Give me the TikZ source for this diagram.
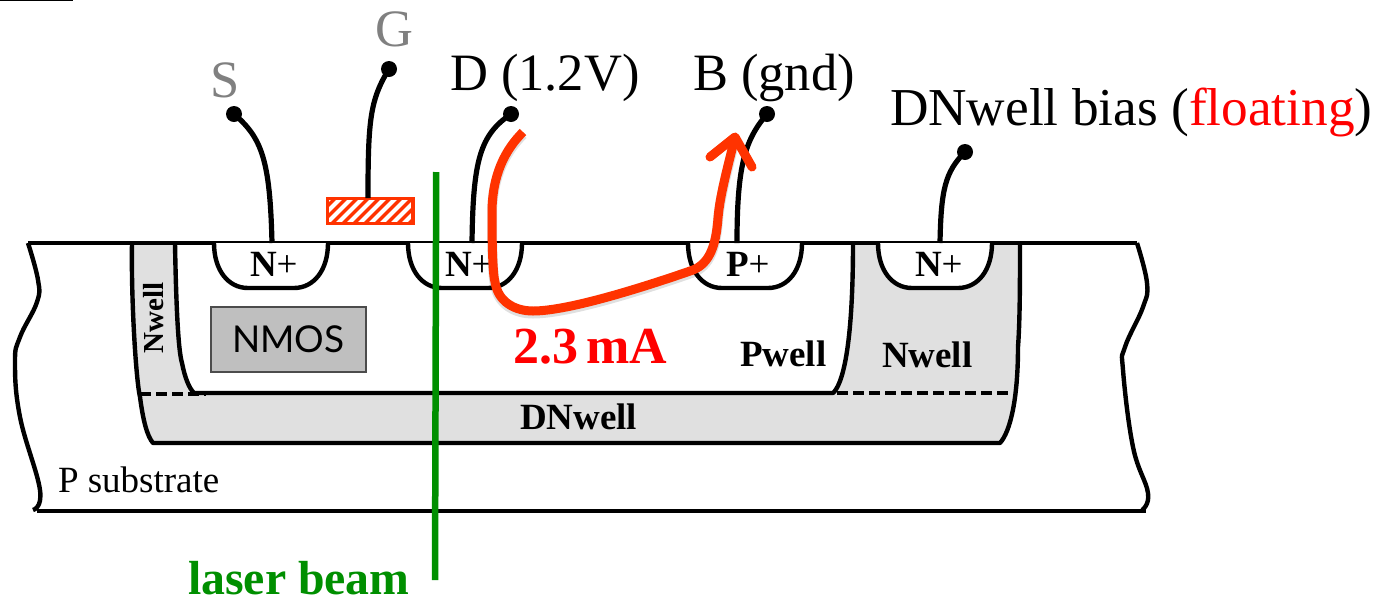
\documentclass[tikz,border=0pt]{standalone}
\usepackage{fontspec}
\setmainfont{Liberation Serif}
\newfontfamily\nmosfont{Lato}
\definecolor{wellgray}{HTML}{E0E0E0}
\definecolor{hotred}{HTML}{FF3300}
\definecolor{beamgreen}{HTML}{008F00}
\newcommand{\fs}[1]{\fontsize{#1}{#1}\selectfont}
\newcommand{\currentpath}{(523,132) .. controls (505,150) and (492,175) .. (492,213)
  .. controls (492,250) and (493,275) .. (495,282)
  .. controls (498,302) and (515,311) .. (533,311)
  .. controls (570,311) and (650,285) .. (693,270)
  .. controls (710,263) and (716,245) .. (718,218)
  .. controls (720,195) and (727,170) .. (735,137)}
\tikzset{
  txt/.style={inner sep=0pt,outer sep=0pt,anchor=base west},
  big/.style={txt,font=\fs{52.5}},
  nplus/.style={txt,font=\fs{37}},
  wellname/.style={txt,font=\fs{37}\bfseries},
  outline/.style={draw=black,line width=4.4pt,line join=round},
  wire/.style={draw=black,line width=5.2pt},
  dot/.style={circle,fill=black,inner sep=0pt,minimum size=16pt},
  dash line/.style={draw=black,line width=3.6pt,dash pattern=on 11pt off 5pt},
  current/.style={draw=hotred,line width=9pt,line join=round},
}
\begin{document}
\begin{tikzpicture}[x=1pt,y=-1pt]
\useasboundingbox (0,0) rectangle (1385,598);
\draw[line width=1.2pt] (0,0.6) -- (73,0.6);
% wells
\fill[wellgray] (132,243) .. controls (131,300) and (136,380) .. (140,397)
  .. controls (143,420) and (147,436) .. (153,443) -- (1000,443)
  .. controls (1010,432) and (1018,400) .. (1018,347) .. controls (1020,320) and (1020,280) .. (1020,243) -- cycle;
\fill[white] (175,243) .. controls (176,300) and (178,350) .. (182,363)
  .. controls (185,378) and (189,388) .. (194,393) -- (833,393)
  .. controls (842,385) and (853,350) .. (853,243) -- cycle;
\path[outline] (132,243) .. controls (131,300) and (136,380) .. (140,397)
  .. controls (143,420) and (147,436) .. (153,443) -- (1000,443)
  .. controls (1010,432) and (1018,400) .. (1018,347) .. controls (1020,320) and (1020,280) .. (1020,243);
\path[outline] (175,243) .. controls (176,300) and (178,350) .. (182,363)
  .. controls (185,378) and (189,388) .. (194,393) -- (833,393)
  .. controls (842,385) and (853,350) .. (853,243);
\coordinate (dl0) at (140,394); \coordinate (dl1) at (206,394);
\coordinate (dr0) at (837,393); \coordinate (dr1) at (1010,393);
\path[dash line] (dl0) -- (dl1);
\path[dash line] (dr0) -- (dr1);
% substrate
\path[outline] (28,243) -- (1137,243);
\path[outline] (37,511) -- (1146,511);
\draw[line width=4.4pt] plot[smooth,tension=.7] coordinates {(28,243) (38,280) (37,302) (20,337) (15,362) (20,417) (40,490) (33,510)};
\draw[line width=4.4pt] plot[smooth,tension=.7] coordinates {(1137,243) (1147,283) (1143,307) (1125,347) (1123,370) (1133,447) (1148,493) (1142,510)};
% diffusions
\path[outline,fill=white] (214,243) .. controls (214,270) and (228,288) .. (248,288) -- (294,288) .. controls (314,288) and (328,270) .. (328,243);
\path[outline,fill=white] (408,243) .. controls (408,270) and (422,288) .. (442,288) -- (488,288) .. controls (508,288) and (522,270) .. (522,243);
\path[outline,fill=white] (688,243) .. controls (688,270) and (702,288) .. (722,288) -- (768,288) .. controls (788,288) and (802,270) .. (802,243);
\path[outline,fill=white] (878,243) .. controls (878,270) and (892,288) .. (912,288) -- (958,288) .. controls (978,288) and (992,270) .. (992,243);
% gate
\begin{scope}
\clip (326,197) rectangle (414.5,225);
\fill[hotred] (326,197) rectangle (414.5,225);
\foreach \xx in {300,311,...,420} \draw[white,line width=4pt] (\xx,228) -- (\xx+31,197);
\end{scope}
\draw[hotred,line width=3.4pt] (327.5,198.5) rectangle (413,223.5);
% terminals
\node[dot] (dS) at (234,114) {};
\node[dot] (dG) at (389,69) {};
\node[dot] (dD) at (511,114) {};
\node[dot] (dB) at (767,114) {};
\node[dot] (dDN) at (965,152) {};
\coordinate (cS) at (272,243);
\coordinate (cG) at (368,198);
\coordinate (cD) at (472,243);
\coordinate (cB) at (737,243);
\coordinate (cDN) at (940,243);
\path[wire] (dS.center) .. controls (262,138) and (270,160) .. (cS);
\path[wire] (dG.center) .. controls (370,100) and (368,120) .. (cG);
\path[wire] (dD.center) .. controls (480,135) and (473,160) .. (cD);
\path[wire] (dB.center) .. controls (745,140) and (737,165) .. (cB);
\path[wire] (dDN.center) .. controls (945,172) and (941,190) .. (cDN);
% labels
\node[big,text=gray] (tS) at (210,97) {S};
\node[big,text=gray] (tG) at (375,46) {G};
\node[big] (tD) at (450,90) {D (1.2V)};
\node[big] (tB) at (693,90) {B (gnd)};
\node[txt,font=\fs{53.3}] (tDN) at (890,125) {DNwell bias ({\color{red}floating})};
\node[nplus] (n1) at (250,276) {\textbf{N}+};
\node[nplus] (n2) at (445,276) {\textbf{N}+};
\node[nplus] (p1) at (726,276) {\textbf{P}+};
\node[nplus] (n3) at (915,276) {\textbf{N}+};
\node[wellname] (pw) at (740,366) {Pwell};
\node[wellname] (nw) at (882,367) {Nwell};
\node[wellname] (dnw) at (520,429) {DNwell};
\node[txt,font=\fs{29}\bfseries,rotate=90] (nwl) at (163,353) {Nwell};
\node[txt,font=\fs{37}] (ps) at (58,492) {P substrate};
\node[draw=black!70,line width=1.4pt,fill=black!25,minimum width=155pt,minimum height=65pt,inner sep=0pt,font=\nmosfont\fs{37}] (nmos) at (288.5,339.5) {NMOS};
% current
\draw[black,opacity=.12,line width=10pt,yshift=-2.5pt] \currentpath;
\coordinate (i1) at (735,137);
\coordinate (a0) at (710,157);
\coordinate (a1) at (752,167);
\path[current] \currentpath;
\path[current,line cap=round] (a0) -- (i1) -- (a1);
\node[txt,font=\fs{52}\bfseries,text=red] (cur) at (513,363) {2.3\,mA};
% beam
\coordinate (b0) at (436.2,172);
\coordinate (b1) at (435,580);
\draw[beamgreen,line width=6.5pt] (b0) -- (b1);
\node[txt,text depth=0pt,font=\fs{47.8}\bfseries,text=beamgreen] (lb) at (188,594) {laser beam};
\end{tikzpicture}
\end{document}
